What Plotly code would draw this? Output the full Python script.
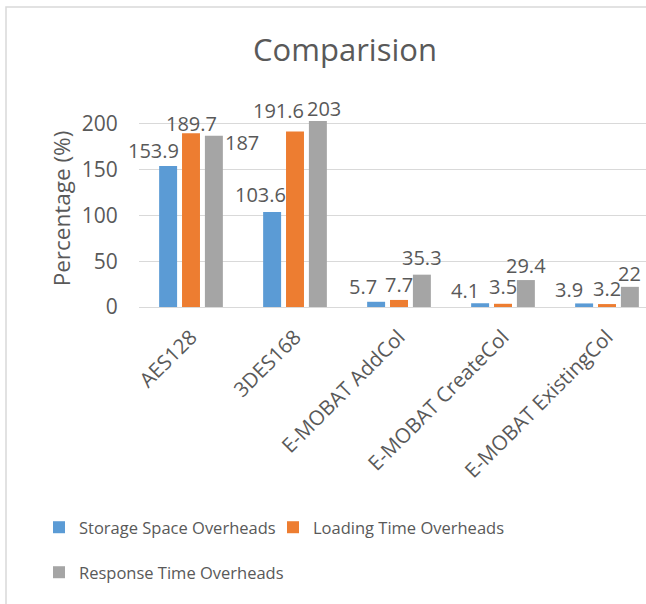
import plotly.graph_objects as go

# ---- data ----
categories = ["AES128", "3DES168", "E-MOBAT AddCol", "E-MOBAT CreateCol", "E-MOBAT ExistingCol"]
storage_space = [153.9, 103.6, 5.7, 4.1, 3.9]
loading_time = [189.7, 191.6, 7.7, 3.5, 3.2]
response_time = [187, 203, 35.3, 29.4, 22]
series_names = ["Storage Space Overheads", "Loading Time Overheads", "Response Time Overheads"]
y_ticks = [0, 50, 100, 150, 200]

# ---- style ----
W, H = 646, 604
ML, MR, MT, MB = 139, 0, 110, 297
colors = ["#5B9BD5", "#ED7D31", "#A5A5A5"]
text_color = "#595959"
grid_color = "#D9D9D9"
FONT = "Open Sans"
BARGAP = 0.34
BARGROUPGAP = 0.215
# per-label pixel offsets (x shift, vertical distance of label centre above bar top)
label_dx = [[-15, -12, -13, -15.5, -15], [0, -17, 0, 0, 0], [28, 6, 0, 0, 0]]
label_dy = [[15, 18, 15, 13, 14], [10, 21, 15, 17, 16], [-7, 13, 17, 15, 13]]
legend_of = ["legend", "legend3", "legend2"]
# legend boxes' top-left corners in pixels
legend_pos = {"legend": (39, 510), "legend3": (273, 510), "legend2": (39, 555)}

series = [storage_space, loading_time, response_time]
PW = W - ML - MR
PH = H - MT - MB

fig = go.Figure()
for name, vals, col, lg in zip(series_names, series, colors, legend_of):
    fig.add_trace(go.Bar(name=name, x=categories, y=vals, legend=lg,
                         marker=dict(color=col, line=dict(width=0))))

slot = (1 - BARGAP) / 3
annotations = []
for s, vals in enumerate(series):
    for i, v in enumerate(vals):
        annotations.append(dict(
            x=i + (s - 1) * slot, y=v, xref="x", yref="y",
            text=f"{v:g}", showarrow=False,
            xanchor="center", yanchor="middle",
            xshift=label_dx[s][i], yshift=label_dy[s][i],
            font=dict(family=FONT, size=20, color=text_color),
        ))

def px2paper(px, py):
    return (px - ML) / PW, (H - MB - py) / PH

x0, y0 = px2paper(6, 604)
x1, y1 = px2paper(6, 7)
x2, y2 = px2paper(646, 7)
shapes = [dict(type="path", xref="paper", yref="paper",
               path=f"M {x0} {y0} L {x1} {y1} L {x2} {y2}",
               line=dict(color=grid_color, width=1.5))]

legend_font = dict(family=FONT, size=16.5, color=text_color)
legends = {}
for key, (px, py) in legend_pos.items():
    lx, ly = px2paper(px, py)
    legends[key] = dict(orientation="h", x=lx, y=ly, xanchor="left", yanchor="top",
                        font=legend_font, bgcolor="rgba(0,0,0,0)")

fig.update_layout(
    width=W, height=H,
    margin=dict(l=ML, r=MR, t=MT, b=MB),
    paper_bgcolor="white", plot_bgcolor="white",
    barmode="group", bargap=BARGAP, bargroupgap=BARGROUPGAP,
    title=dict(text="Comparision", x=345 / W, xref="container", xanchor="center",
               y=1 - 50 / H, yref="container", yanchor="middle",
               font=dict(family=FONT, size=31, color=text_color)),
    font=dict(family=FONT, color=text_color),
    xaxis=dict(type="category", range=[-0.5, 4.375], tickangle=-45,
               tickfont=dict(family=FONT, size=20.5, color=text_color),
               showgrid=False, showline=False,
               ticks="outside", ticklen=9, tickcolor="rgba(0,0,0,0)"),
    yaxis=dict(range=[0, 215], tickvals=y_ticks, ticktext=[str(t) for t in y_ticks],
               tickfont=dict(family=FONT, size=21, color=text_color),
               showgrid=True, gridcolor=grid_color, gridwidth=1.3,
               zeroline=True, zerolinecolor=grid_color, zerolinewidth=1.3,
               ticks="outside", ticklen=16, tickcolor="rgba(0,0,0,0)",
               title=dict(text="Percentage (%)", standoff=4,
                          font=dict(family=FONT, size=22.5, color=text_color))),
    annotations=annotations,
    shapes=shapes,
    showlegend=True,
    **legends,
)

fig.write_html("out.html")
